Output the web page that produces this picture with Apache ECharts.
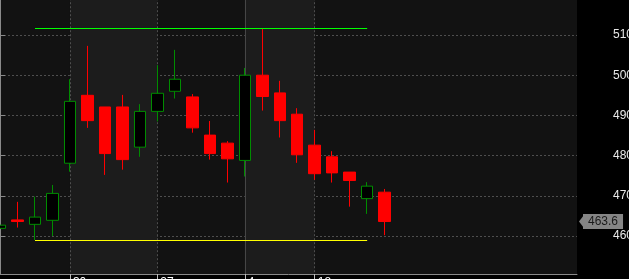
<!DOCTYPE html>
<html>
<head>
<meta charset="utf-8">
<script src="https://cdn.jsdelivr.net/npm/echarts@6/dist/echarts.min.js"></script>
<style>
html,body{margin:0;padding:0;background:#000;}
#c{width:629px;height:279px;}
</style>
</head>
<body>
<div id="c"></div>
<script>
// ---- data ----
const candleIndex = [0,1,2,3,4,5,6,7,8,9,10,11,12,13,14,15,16,17,18,19,20,21,22];
const openVals  = [461.9,464.0,462.9,463.9,478.1,495.0,492.1,492.1,482.1,491.0,496.0,494.6,485.1,483.1,478.8,500.0,495.6,490.3,482.6,479.7,475.9,469.3,470.9];
const closeVals = [462.7,463.6,464.7,470.6,493.5,488.7,480.5,479.0,491.0,495.5,499.0,486.9,480.5,479.2,500.0,494.7,488.7,480.2,475.5,475.7,473.8,472.4,463.6];
const lowVals   = [461.0,462.1,459.0,460.0,476.0,486.9,475.2,476.5,479.7,488.5,494.2,485.7,479.0,473.3,474.8,491.2,484.5,478.2,474.0,473.3,467.3,465.5,460.2];
const highVals  = [463.5,468.5,469.8,472.7,499.0,507.3,492.1,495.1,492.8,502.5,506.3,495.3,488.6,483.6,501.8,511.5,498.6,491.8,486.4,481.1,475.9,473.4,471.7];
const tickIndex = [4, 9, 14, 18];
const tickText  = ['30', '27', '4', '18'];
const shadedBands = [[4, 9], [14, 18]];
const resistance = {from: 2, to: 21, value: 511.7};
const support    = {from: 2, to: 21, value: 459.0};
const lastPrice = 463.6;

const candleData = candleIndex.map((x, i) => [x, openVals[i], closeVals[i], lowVals[i], highVals[i]]);

const chart = echarts.init(document.getElementById('c'), null, {renderer: 'canvas'});
const font = "'Liberation Sans', Arial, sans-serif";

function hLine(def, color) {
  const ls = {color: color, width: 1, type: 'solid'};
  return [
    {coord: [def.from, def.value], lineStyle: ls, label: {show: false}},
    {coord: [def.to, def.value], lineStyle: ls, label: {show: false}}
  ];
}

chart.setOption({
  animation: false,
  backgroundColor: '#000000',
  grid: {
    left: 0, right: 52, top: -5.2, bottom: 2.8,
    outerBoundsMode: 'none', containLabel: false,
    show: true, backgroundColor: '#121212', borderWidth: 0
  },
  xAxis: {
    type: 'value', min: 0, max: 33, position: 'bottom', offset: -2.2, z: 200,
    axisLine: {show: true, lineStyle: {color: '#8a8a8a', width: 1}},
    axisTick: {show: true, customValues: tickIndex, length: 5, lineStyle: {color: '#bdbdbd'}},
    axisLabel: {
      show: true, customValues: tickIndex, margin: 3, align: 'left', padding: [0, 0, 0, 3],
      color: '#ffffff', fontSize: 12, fontFamily: font,
      formatter: v => { const k = tickIndex.indexOf(Math.round(v)); return k >= 0 ? tickText[k] : ''; }
    },
    splitLine: {show: false}
  },
  yAxis: {
    type: 'value', position: 'right', min: 450, max: 520, interval: 10,
    axisLine: {show: true, lineStyle: {color: '#8a8a8a', width: 1}},
    axisTick: {show: true, length: 5, lineStyle: {color: '#8a8a8a'}},
    axisLabel: {color: '#e8e8e8', margin: 36, fontSize: 12, fontFamily: font, showMinLabel: false, showMaxLabel: false},
    splitLine: {show: true, lineStyle: {color: '#4e4e4e', type: [2, 2], width: 1}}
  },
  graphic: [{
    type: 'rect', z: 100, silent: true,
    shape: {x: 0, y: 274.5, width: 629, height: 10},
    style: {fill: '#000000'}
  }],
  series: [
    {
      type: 'line', data: [], z: 1, silent: true,
      markArea: {
        silent: true,
        itemStyle: {color: '#1c1c1c'},
        data: shadedBands.map(b => [{xAxis: b[0]}, {xAxis: b[1]}])
      },
      markLine: {
        silent: true, symbol: ['none', 'none'], label: {show: false},
        lineStyle: {color: '#4e4e4e', type: [2, 2], width: 1},
        data: tickIndex.map((x, k) => k === 2
          ? {xAxis: x, lineStyle: {color: '#464646', type: 'solid', width: 1}}
          : {xAxis: x})
      }
    },
    {
      type: 'candlestick', z: 5,
      data: candleData,
      encode: {x: 0, y: [1, 2, 3, 4]},
      barWidth: 12,
      clip: false,
      itemStyle: {
        color: '#000000', color0: '#ff0000',
        borderColor: '#008c00', borderColor0: '#ff0000', borderWidth: 1
      },
      markLine: {
        silent: true, symbol: ['none', 'none'],
        data: [
          hLine(resistance, '#00ff00'),
          hLine(support, '#ffff00'),
          {
            yAxis: lastPrice,
            lineStyle: {color: 'rgba(0,0,0,0)', width: 0},
            label: {
              show: true, position: 'end', distance: 6,
              formatter: '{p|' + lastPrice + '}',
              backgroundColor: '#858585',
              padding: [1, 5, 1, 5],
              rich: {p: {color: '#1a1a1a', fontSize: 12, lineHeight: 13, fontFamily: font, textBorderWidth: 0}}
            }
          }
        ]
      },
      markPoint: {
        silent: true,
        label: {show: false},
        data: [{
          coord: [33, lastPrice], symbol: 'triangle', symbolSize: [13, 5],
          symbolRotate: 90, symbolOffset: [4.5, 0],
          itemStyle: {color: '#858585'}
        }]
      }
    }
  ]
});
</script>
</body>
</html>
